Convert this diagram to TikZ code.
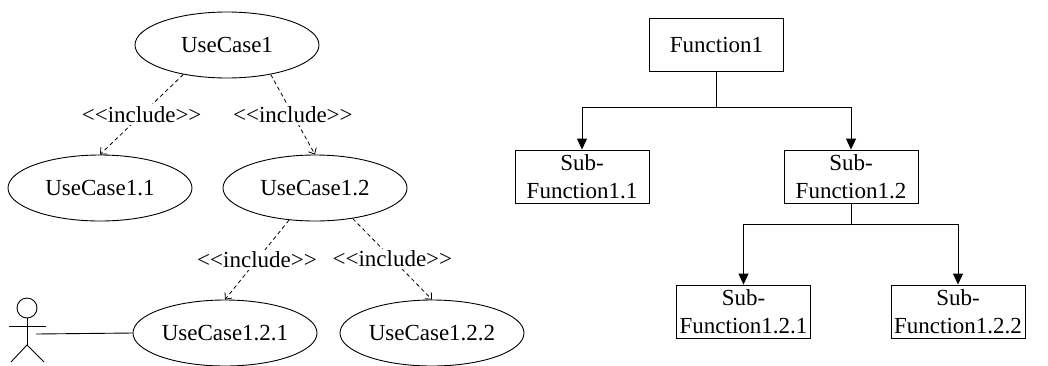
\documentclass[tikz,border=0pt]{standalone}
\usepackage{fontspec}
\setmainfont{Liberation Serif}[Ligatures=TeXOff]
\usetikzlibrary{shapes.geometric,arrows.meta}
\tikzset{
  uc/.style={draw, ellipse, minimum width=184pt, minimum height=66pt, inner sep=0pt, line width=0.9pt},
  fbox/.style={draw, rectangle, minimum width=134pt, minimum height=53pt, inner sep=0pt, align=center, line width=0.9pt, font=\fontsize{23}{27.6}\selectfont},
  inc/.style={line width=0.8pt, dash pattern=on 4pt off 3pt, -{Straight Barb[length=5pt,width=9pt]}},
  lbl/.style={fill=white, inner sep=2pt},
  arr/.style={line width=0.9pt, -{Triangle[length=11pt,width=10pt]}},
  plain/.style={line width=0.9pt}
}
\begin{document}
\begin{tikzpicture}[x=1pt,y=-1pt, font=\fontsize{23}{27.6}\selectfont]
\useasboundingbox (0,0) rectangle (1048,365);
% use cases
\node[uc] (uc1) at (227,45) {UseCase1};
\node[uc] (uc11) at (100,188) {UseCase1.1};
\node[uc] (uc12) at (315,188) {UseCase1.2};
\node[uc] (uc121) at (225,333) {UseCase1.2.1};
\node[uc] (uc122) at (432,333) {UseCase1.2.2};
\draw[inc] (uc1.214) -- node[lbl] {<<include>>} (uc11.north);
\draw[inc] (uc1.326) -- node[lbl] {<<include>>} (uc12.north);
\draw[inc] (uc12.231) -- node[lbl] {<<include>>} (uc121.north);
\draw[inc] (uc12.321) -- node[lbl] {<<include>>} (uc122.north);
% actor
\node[draw, circle, minimum size=20pt, inner sep=0pt, line width=0.9pt] (head) at (27,308) {};
\coordinate (hip) at (27,345);
\coordinate (armL) at (9,326);
\coordinate (armR) at (46,326);
\coordinate (legL) at (11,362);
\coordinate (legR) at (44,362);
\coordinate (hand) at (36,334);
\draw[plain] (head.south) -- (hip);
\draw[plain] (armL) -- (armR);
\draw[plain] (legL) -- (hip) -- (legR);
\draw[plain] (hand) -- (uc121.west);
% function tree
\node[fbox] (f1) at (716.5,45) {Function1};
\node[fbox] (sf11) at (582,176.5) {Sub-\\Function1.1};
\node[fbox] (sf12) at (851,176.5) {Sub-\\Function1.2};
\node[fbox] (sf121) at (743.5,311.5) {Sub-\\Function1.2.1};
\node[fbox] (sf122) at (958,311.5) {Sub-\\Function1.2.2};
\coordinate (j1) at (716.5,107);
\coordinate (j2) at (851,224);
\draw[plain] (f1.south) -- (j1);
\draw[arr] (j1) -| (sf11.north);
\draw[arr] (j1) -| (sf12.north);
\draw[plain] (sf12.south) -- (j2);
\draw[arr] (j2) -| (sf121.north);
\draw[arr] (j2) -| (sf122.north);
\end{tikzpicture}
\end{document}
